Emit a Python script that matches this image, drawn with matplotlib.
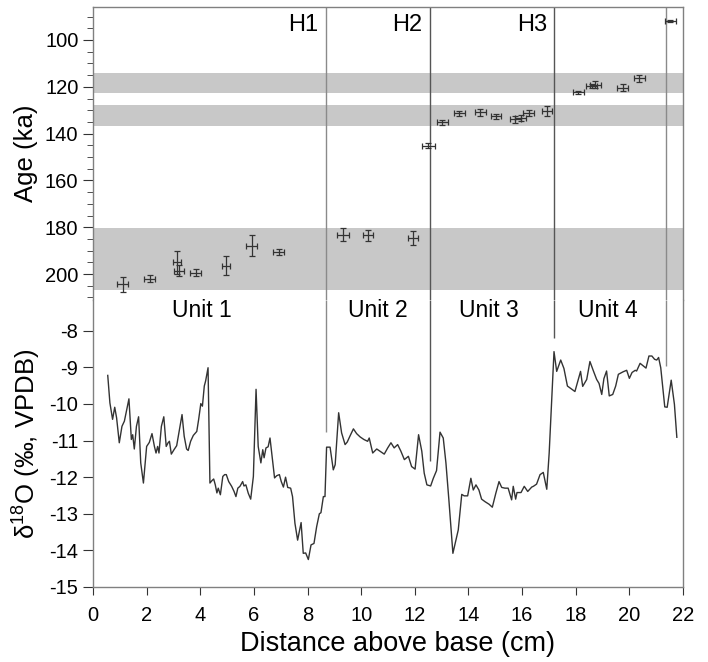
import numpy as np
import matplotlib
matplotlib.use("Agg")
import matplotlib.pyplot as plt
from matplotlib.ticker import MultipleLocator

plt.rcParams['font.family'] = ['Liberation Sans', 'DejaVu Sans']
plt.rcParams['mathtext.fontset'] = 'custom'
plt.rcParams['mathtext.rm'] = 'Liberation Sans'
plt.rcParams['axes.unicode_minus'] = False

# U-Th ages (top panel)
age_x = [1.11, 2.11, 3.12, 3.21, 3.83, 4.95, 5.92, 6.93,
         9.32, 10.25, 11.93, 12.51,
         13.03, 13.66, 14.44, 15.03, 15.75, 15.95, 16.25, 16.93,
         18.10, 18.60, 18.73, 19.75, 20.37, 21.53]
age_y = [204.3, 202.0, 195.0, 198.6, 199.4, 196.4, 187.9, 190.4,
         183.2, 183.5, 184.6, 145.2,
         135.2, 131.3, 130.9, 132.6, 133.8, 133.2, 131.0, 130.3,
         122.4, 119.7, 119.1, 120.4, 116.4, 91.9]
age_xerr = [0.20, 0.21, 0.15, 0.20, 0.20, 0.15, 0.20, 0.20,
            0.22, 0.20, 0.20, 0.23,
            0.20, 0.20, 0.20, 0.20, 0.20, 0.20, 0.20, 0.20,
            0.20, 0.20, 0.20, 0.20, 0.20, 0.20]
age_yerr = [3.2, 1.6, 5.0, 2.3, 1.6, 4.0, 4.6, 1.3,
            2.8, 2.5, 2.8, 1.0,
            1.2, 1.0, 1.5, 1.0, 1.5, 1.2, 1.3, 2.0,
            0.5, 1.0, 1.5, 1.5, 1.5, 0.3]

# grey age bands (ka)
band_lo = [114.2, 127.9, 180.5]
band_hi = [122.8, 136.6, 207.0]

# d18O record (bottom panel)
d18o_x = [0.55, 0.63, 0.73, 0.81, 0.88, 0.98, 1.08, 1.17, 1.26, 1.34, 1.43, 1.48, 1.54,
          1.62, 1.70, 1.78, 1.88, 2.00, 2.10, 2.20, 2.29, 2.35, 2.41, 2.46, 2.55, 2.64,
          2.73, 2.80, 2.85, 2.92, 3.02, 3.12, 3.18, 3.32, 3.40, 3.49, 3.55, 3.64, 3.74,
          3.87, 3.94, 4.02, 4.08, 4.15, 4.20, 4.29, 4.36, 4.44, 4.50, 4.56, 4.62, 4.67,
          4.75, 4.84, 4.91, 4.97, 5.06, 5.17, 5.26, 5.33, 5.40, 5.48, 5.58, 5.63, 5.70,
          5.79, 5.88, 5.98, 6.08, 6.16, 6.26, 6.33, 6.38, 6.45, 6.53, 6.60, 6.69, 6.77,
          6.85, 6.95, 7.02, 7.10, 7.18, 7.26, 7.37, 7.44, 7.53, 7.63, 7.76, 7.84, 7.93,
          8.03, 8.13, 8.24, 8.34, 8.44, 8.50, 8.59, 8.65, 8.71, 8.84, 8.96, 9.03, 9.16,
          9.27, 9.40, 9.48, 9.58, 9.71, 9.83, 9.96, 10.10, 10.24, 10.30, 10.43, 10.58,
          10.70, 10.86, 10.99, 11.11, 11.23, 11.36, 11.48, 11.61, 11.76, 11.88, 12.01,
          12.14, 12.26, 12.35, 12.45, 12.59, 12.69, 12.81, 12.94, 13.06, 13.16, 13.27,
          13.42, 13.62, 13.75, 13.84, 13.97, 14.09, 14.18, 14.28, 14.39, 14.49, 14.62,
          14.77, 14.89, 15.02, 15.14, 15.24, 15.36, 15.48, 15.61, 15.67, 15.76, 15.81,
          15.96, 16.08, 16.21, 16.36, 16.42, 16.54, 16.67, 16.79, 16.92, 17.01, 17.10,
          17.19, 17.29, 17.44, 17.56, 17.69, 17.82, 17.97, 18.18, 18.26, 18.41, 18.53,
          18.66, 18.78, 18.87, 18.97, 19.05, 19.15, 19.25, 19.38, 19.49, 19.59, 19.77,
          19.90, 20.00, 20.10, 20.22, 20.27, 20.40, 20.52, 20.62, 20.73, 20.84, 20.94,
          21.02, 21.09, 21.17, 21.32, 21.41, 21.56, 21.68, 21.77]
d18o_y = [-9.22, -9.97, -10.42, -10.09, -10.38, -11.06, -10.61, -10.47, -10.15, -9.86,
          -10.97, -10.84, -11.23, -10.61, -10.35, -11.61, -12.16, -11.16, -11.05, -10.81,
          -11.16, -11.34, -11.16, -11.34, -10.61, -10.35, -11.16, -11.06, -11.02, -11.37,
          -11.25, -11.14, -10.88, -10.29, -10.88, -11.23, -11.27, -11.02, -10.86, -10.75,
          -10.42, -9.99, -10.06, -9.51, -9.37, -9.01, -12.16, -12.09, -12.05, -12.21,
          -12.43, -12.30, -12.48, -11.98, -11.93, -11.93, -12.12, -12.25, -12.39, -12.53,
          -12.30, -12.25, -12.12, -12.24, -12.21, -12.44, -12.60, -11.98, -9.60, -11.16,
          -11.61, -11.25, -11.47, -11.20, -11.17, -10.93, -11.52, -12.02, -11.96, -11.93,
          -12.12, -12.27, -12.00, -12.28, -12.30, -12.53, -13.26, -13.72, -13.24, -14.08,
          -14.07, -14.25, -13.85, -13.81, -13.35, -13.00, -12.97, -12.53, -12.53, -11.18,
          -11.18, -11.80, -11.66, -10.24, -10.79, -11.11, -11.04, -10.88, -10.68, -10.81,
          -10.90, -10.97, -11.02, -10.93, -11.34, -11.23, -11.29, -11.37, -11.20, -11.06,
          -11.20, -11.11, -11.29, -11.52, -11.43, -11.71, -11.78, -10.84, -11.29, -11.89,
          -12.21, -12.24, -12.03, -11.82, -10.77, -10.93, -11.61, -12.62, -14.08, -13.44,
          -12.47, -12.51, -12.51, -12.03, -12.35, -12.21, -12.35, -12.60, -12.67, -12.74,
          -12.82, -12.44, -12.12, -12.28, -12.30, -12.30, -12.62, -12.25, -12.60, -12.42,
          -12.42, -12.25, -12.39, -12.27, -12.25, -12.19, -11.93, -11.87, -12.33, -11.34,
          -9.97, -8.57, -9.11, -8.80, -9.03, -9.51, -9.58, -9.66, -9.11, -9.52, -9.33,
          -8.84, -9.10, -9.33, -9.44, -9.74, -9.31, -9.10, -9.78, -9.74, -9.51, -9.19,
          -9.12, -9.08, -9.30, -9.14, -9.08, -9.10, -8.89, -8.96, -9.02, -8.69, -8.69,
          -8.78, -8.80, -8.73, -9.01, -10.08, -10.09, -9.35, -10.01, -10.91]

# hiatus / unit boundaries and how far down each line reaches into the d18O panel
boundary_x = [8.68, 12.55, 17.2, 21.37]
boundary_end = [-10.76, -11.56, -8.2, -8.95]
boundary_col = ['#8a8a8a', '#555555', '#555555', '#8a8a8a']
hiatus_labels = ['H1', 'H2', 'H3']
unit_labels = ['Unit 1', 'Unit 2', 'Unit 3', 'Unit 4']
unit_x = [4.05, 10.62, 14.77, 19.21]

W, H = 708, 662
fig = plt.figure(figsize=(W / 100, H / 100), dpi=100)
ax1 = fig.add_axes([93 / W, 1 - 300 / H, 590 / W, 293 / H])
ax2 = fig.add_axes([93 / W, 1 - 587 / H, 590 / W, 287 / H])

spine_col = '#808080'
for ax in (ax1, ax2):
    for s in ax.spines.values():
        s.set_color(spine_col)
        s.set_linewidth(1.0)
    ax.set_xlim(0, 22)
    ax.tick_params(axis='both', labelsize=14.5, color='#333333', direction='out')
ax1.spines['bottom'].set_visible(False)
ax2.spines['top'].set_visible(False)

# top panel
top_lim = (85.9, 211.1)
ax1.set_ylim(top_lim[1], top_lim[0])
for lo, hi in zip(band_lo, band_hi):
    ax1.axhspan(lo, hi, color='#c8c8c8', lw=0, zorder=0)
for bx, bc in zip(boundary_x, boundary_col):
    ax1.axvline(bx, color=bc, lw=1.0, zorder=1)
ax1.errorbar(age_x, age_y, xerr=age_xerr, yerr=age_yerr, fmt='none',
             ecolor='#333333', elinewidth=0.9, capsize=2.5, capthick=0.9, zorder=3)
for bx, lab in zip(boundary_x, hiatus_labels):
    ax1.text(bx - 0.28, 0.939, lab, transform=ax1.get_xaxis_transform(),
             ha='right', va='center', fontsize=17)
ax1.yaxis.set_minor_locator(MultipleLocator(5))
ax1.set_yticks([100, 120, 140, 160, 180, 200])
ax1.tick_params(axis='y', which='major', length=7)
ax1.tick_params(axis='y', which='minor', length=4, color='#333333')
ax1.tick_params(axis='x', bottom=False, labelbottom=False)
ax1.set_ylabel('Age (ka)', fontsize=18.5, labelpad=5)

# bottom panel
bot_lim = (-15, -7.16)
ax2.set_ylim(*bot_lim)
ax2.plot(d18o_x, d18o_y, color='#333333', lw=1.0, zorder=3)
for bx, be, bc in zip(boundary_x, boundary_end, boundary_col):
    ax2.vlines(bx, be, bot_lim[1], color=bc, lw=1.0, zorder=1)
for ux, lab in zip(unit_x, unit_labels):
    ax2.text(ux, 0.965, lab, transform=ax2.get_xaxis_transform(),
             ha='center', va='center', fontsize=16.5)
ax2.set_yticks(np.arange(-15, -7, 1))
ax2.set_xticks(np.arange(0, 23, 2))
ax2.tick_params(axis='y', length=7)
ax2.tick_params(axis='x', length=6, pad=8)
ax2.set_ylabel('δ$^{18}$O (‰, VPDB)', fontsize=18.5, labelpad=5)
ax2.set_xlabel('Distance above base (cm)', fontsize=19.5)
ax2.xaxis.set_label_coords((397 - 93) / 590, -(631 - 587) / 287)

fig.savefig('out.png', dpi=100)
